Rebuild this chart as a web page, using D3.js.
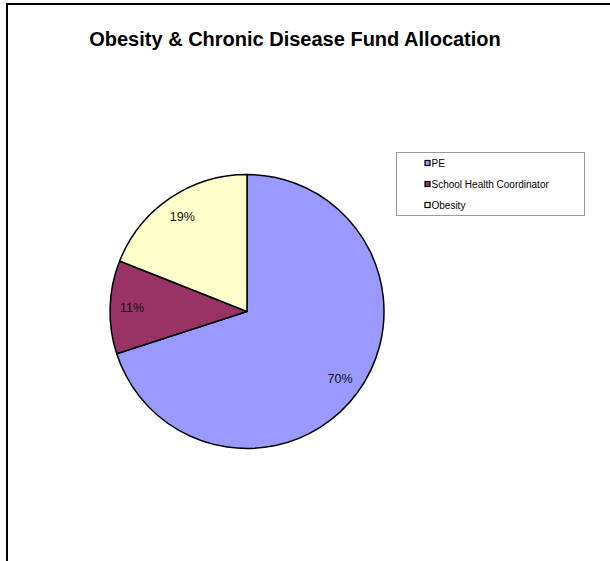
<!DOCTYPE html>
<html>
<head>
<meta charset="utf-8">
<script src="https://cdn.jsdelivr.net/npm/d3@7"></script>
<style>
  html, body { margin: 0; background: #fff; overflow: hidden; }
  svg { display: block; font-family: "Liberation Sans", Arial, sans-serif; }
</style>
</head>
<body>
<div class="chart"></div>
<script>
// chart data
var categories = ["PE", "School Health Coordinator", "Obesity"];
var shares = [70, 11, 19];
var sliceColors = ["#9999FF", "#993366", "#FFFFCC"];
var chartTitle = "Obesity & Chronic Disease Fund Allocation";

var svgWidth = 610;
var svgHeight = 561;

var svg = d3.select(".chart")
  .append("svg")
  .attr("width", svgWidth)
  .attr("height", svgHeight);

// white chart area
svg.append("rect")
  .attr("width", svgWidth)
  .attr("height", svgHeight)
  .attr("fill", "#fff");

// outer chart frame (runs off the right and bottom edges)
svg.append("path")
  .attr("d", "M7,561V4H610")
  .attr("fill", "none")
  .attr("stroke", "#000")
  .attr("stroke-width", 2);

// title
svg.append("text")
  .attr("x", 295)
  .attr("y", 45.5)
  .attr("text-anchor", "middle")
  .attr("font-size", 20)
  .attr("font-weight", "bold")
  .text(chartTitle);

var data = categories.map(function(c, i) {
  return { name: c, value: shares[i], color: sliceColors[i] };
});

var radius = 137;
var pieGroup = svg.append("g")
  .attr("transform", "translate(247, 311.5)");

var pie = d3.pie()
  .sort(null)
  .value(d => d.value);

var arc = d3.arc()
  .innerRadius(0)
  .outerRadius(radius);

var labelArc = d3.arc()
  .innerRadius(115)
  .outerRadius(115);

var arcs = pie(data);

pieGroup.selectAll("path")
  .data(arcs)
  .enter()
  .append("path")
  .attr("d", arc)
  .attr("fill", d => d.data.color)
  .attr("stroke", "#000")
  .attr("stroke-width", 1.5)
  .attr("stroke-linejoin", "round");

pieGroup.selectAll(".sliceLabel")
  .data(arcs)
  .enter()
  .append("text")
  .attr("class", "sliceLabel")
  .attr("transform", d => "translate(" + labelArc.centroid(d) + ")")
  .attr("text-anchor", "middle")
  .attr("dy", "0.35em")
  .attr("font-size", 12.5)
  .attr("fill", "#111")
  .text(d => d.data.value + "%");

// legend
var legend = svg.append("g")
  .attr("transform", "translate(396, 152)");

legend.append("rect")
  .attr("x", 0.5)
  .attr("y", 0.5)
  .attr("width", 188)
  .attr("height", 63)
  .attr("fill", "#fff")
  .attr("stroke", "#999")
  .attr("stroke-width", 1);

var items = legend.selectAll(".legendItem")
  .data(data)
  .enter()
  .append("g")
  .attr("class", "legendItem")
  .attr("transform", (d, i) => "translate(29, " + (11.5 + i * 21) + ")");

items.append("rect")
  .attr("x", 0)
  .attr("y", -3)
  .attr("width", 5)
  .attr("height", 5)
  .attr("fill", d => d.color)
  .attr("stroke", "#000")
  .attr("stroke-width", 1.2);

items.append("text")
  .attr("x", 6.5)
  .attr("y", 0)
  .attr("dy", "0.35em")
  .attr("font-size", 10)
  .attr("fill", "#000")
  .text(d => d.name);
</script>
</body>
</html>
